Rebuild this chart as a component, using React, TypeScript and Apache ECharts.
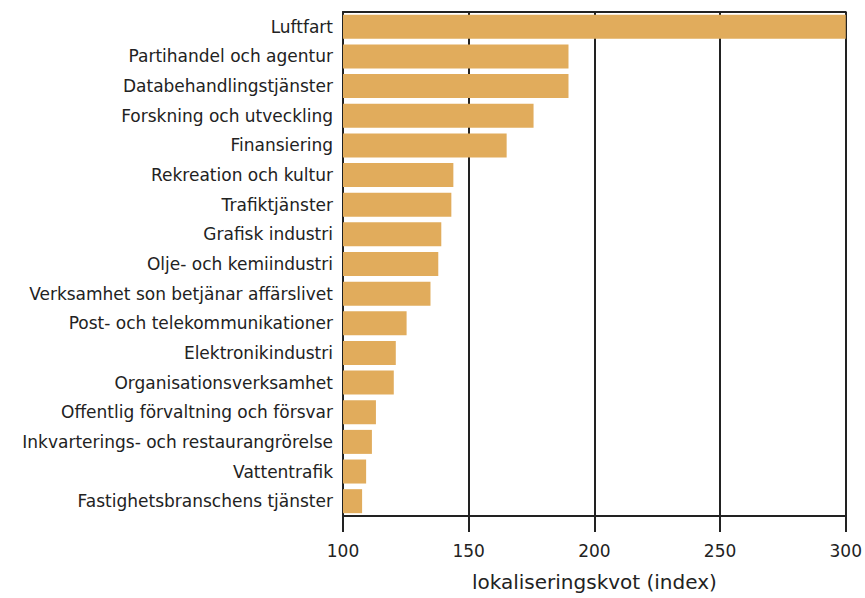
import React, { useEffect, useRef } from "react";
import * as echarts from "echarts";

const categories = [
  "Luftfart",
  "Partihandel och agentur",
  "Databehandlingstjänster",
  "Forskning och utveckling",
  "Finansiering",
  "Rekreation och kultur",
  "Trafiktjänster",
  "Grafisk industri",
  "Olje- och kemiindustri",
  "Verksamhet son betjänar affärslivet",
  "Post- och telekommunikationer",
  "Elektronikindustri",
  "Organisationsverksamhet",
  "Offentlig förvaltning och försvar",
  "Inkvarterings- och restaurangrörelse",
  "Vattentrafik",
  "Fastighetsbranschens tjänster",
];

const values = [300, 189.7, 189.7, 175.8, 165.1, 143.9, 143.1, 139.1, 137.9, 134.8, 125.3, 121.0, 120.2, 113.1, 111.5, 109.2, 107.6];

const xTicks = [100, 150, 200, 250, 300];
const xAxisTitle = "lokaliseringskvot (index)";

const FONT = "DejaVu Sans";
const INK = "#222222";
const BAR = "#E1AC5C";

export default function App() {
  const ref = useRef<HTMLDivElement>(null);
  useEffect(() => {
    if (!ref.current) return;
    const chart = echarts.init(ref.current, null, { renderer: "svg" });
    chart.setOption({
      animation: false,
      textStyle: { fontFamily: FONT },
      grid: { left: 343, right: 15, top: 12, bottom: 82, containLabel: false },
      xAxis: [
        {
          type: "value",
          position: "bottom",
          min: xTicks[0],
          max: xTicks[xTicks.length - 1],
          interval: 50,
          axisLine: { show: true, lineStyle: { color: INK, width: 2 } },
          axisTick: { show: true, length: 16, lineStyle: { color: INK, width: 2 } },
          splitLine: { show: true, lineStyle: { color: INK, width: 2 } },
          axisLabel: { color: INK, fontSize: 17, margin: 26, fontFamily: FONT },
          name: xAxisTitle,
          nameLocation: "middle",
          nameGap: 56,
          nameTextStyle: { color: INK, fontSize: 20, fontFamily: FONT },
        },
        {
          type: "value",
          position: "top",
          min: xTicks[0],
          max: xTicks[xTicks.length - 1],
          interval: 50,
          axisLine: { show: true, lineStyle: { color: INK, width: 2 } },
          axisTick: { show: false },
          splitLine: { show: false },
          axisLabel: { show: false },
        },
      ],
      yAxis: {
        type: "category",
        data: categories,
        inverse: true,
        axisLine: { show: true, lineStyle: { color: INK, width: 2 } },
        axisTick: { show: false },
        axisLabel: { color: INK, fontSize: 17, margin: 10, fontFamily: FONT },
      },
      series: [
        {
          type: "bar",
          data: values,
          barCategoryGap: "19%",
          itemStyle: { color: BAR },
          clip: true,
        },
      ],
    });
    return () => chart.dispose();
  }, []);
  return (
    <div
      ref={ref}
      style={{ position: "fixed", left: 0, top: 0, width: 865, height: 598, background: "#fff" }}
    />
  );
}
